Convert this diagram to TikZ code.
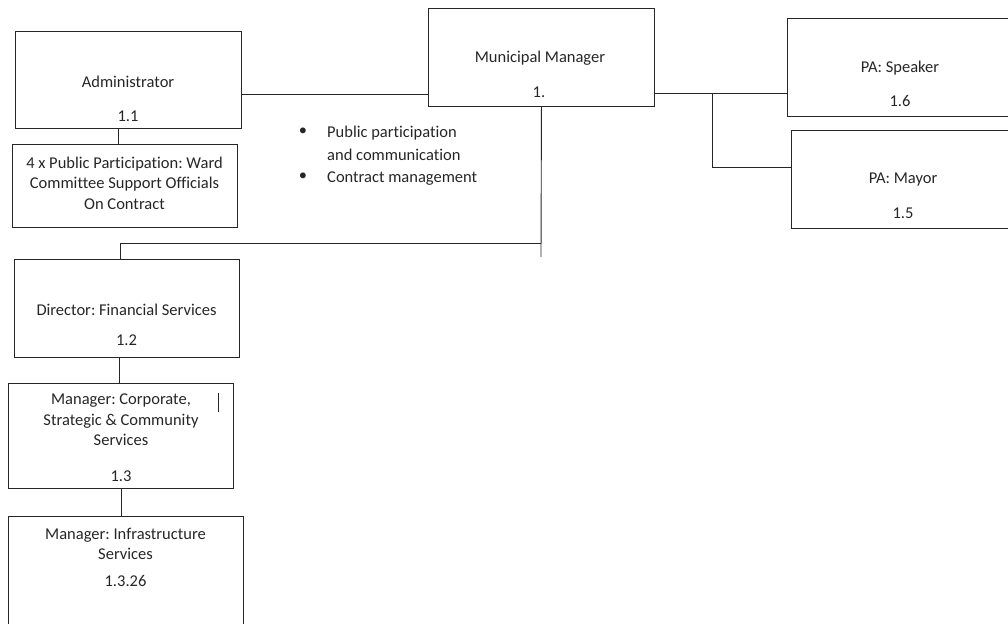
\documentclass[tikz,border=0pt]{standalone}
\usepackage{fontspec}
\setmainfont{Carlito}[Ligatures=NoCommon]
\frenchspacing
\begin{document}
\begin{tikzpicture}[x=1pt,y=-1pt,
  box/.style={draw=black!85,line width=0.9pt,rectangle,anchor=north west,inner sep=0pt},
  lbl/.style={text=black!85,font=\fontsize{16.5}{20.5}\selectfont\frenchspacing,align=center,inner sep=0pt},
  con/.style={draw=black!85,line width=0.9pt}]
\useasboundingbox (0,0) rectangle (1008,623);
\clip (0,0) rectangle (1008,623);
% boxes
\node[box,minimum width=226pt,minimum height=97pt] (adm) at (15,31) {};
\node[box,minimum width=225pt,minimum height=83pt] (ward) at (12,144) {};
\node[box,minimum width=226pt,minimum height=98pt] (mm) at (428,8) {};
\node[box,minimum width=230pt,minimum height=98pt] (spk) at (787,18) {};
\node[box,minimum width=228pt,minimum height=98pt] (may) at (791,130) {};
\node[box,minimum width=225pt,minimum height=98pt] (dir) at (14,259) {};
\node[box,minimum width=225pt,minimum height=105pt] (corp) at (8,383) {};
\node[box,minimum width=235pt,minimum height=124pt] (inf) at (8,516) {};
% texts
\node[lbl] (admt) at (128,82) {Administrator};
\node[lbl] (admn) at (128,116) {1.1};
\node[lbl] (wardt) at (124.5,183) {4 x Public Participation: Ward\\Committee Support Officials\\On Contract};
\node[lbl] (mmt) at (540,58) {Municipal Manager};
\node[lbl] (mmn) at (539,92) {1.};
\node[lbl] (spkt) at (900,68) {PA: Speaker};
\node[lbl] (spkn) at (900,101) {1.6};
\node[lbl] (mayt) at (903,180) {PA: Mayor};
\node[lbl] (mayn) at (903,213) {1.5};
\node[lbl] (dirt) at (126.5,310) {Director: Financial Services};
\node[lbl] (dirn) at (126.5,340) {1.2};
\node[lbl] (corpt) at (121,420) {Manager: Corporate,\\Strategic \& Community\\Services};
\node[lbl] (corpn) at (121,476) {1.3};
\node[lbl] (inft) at (125.5,544) {Manager: Infrastructure\\Services};
\node[lbl] (infn) at (125.5,581) {1.3.26};
% bullets
\node[lbl] (bul1) at (303,132) {•};
\node[lbl,anchor=base west] (bt1) at (327,137) {Public participation};
\node[lbl,anchor=base west] (bt1b) at (327,160) {and communication};
\node[lbl] (bul2) at (303,177) {•};
\node[lbl,anchor=base west] (bt2) at (327,182) {Contract management};
% small mark in corp box
\draw[con] (218,393) -- (218,412);
% connectors
\draw[con] ([yshift=-14.5pt]adm.east) -- ([yshift=-14.5pt]adm.east -| mm.west);
\draw[con] ([xshift=-10pt]adm.south) -- ([xshift=-10pt]adm.south |- ward.north);
\draw[con] ([yshift=-36pt]mm.east) -- ([yshift=-36pt]mm.east -| spk.west);
\coordinate (jr) at (712,93);
\draw[con] (jr) |- ([yshift=12pt]may.west);
\coordinate (mmend) at (541,257);
\draw[con] (mm.south) -- (mmend);
\coordinate (jb) at (541,243);
\draw[con] (jb) -| ([xshift=-6.5pt]dir.north);
\draw[con] ([xshift=-7.5pt]dir.south) -- ([xshift=-7.5pt]dir.south |- corp.north);
\draw[con] (corp.south) -- (corp.south |- inf.north);
\end{tikzpicture}
\end{document}
